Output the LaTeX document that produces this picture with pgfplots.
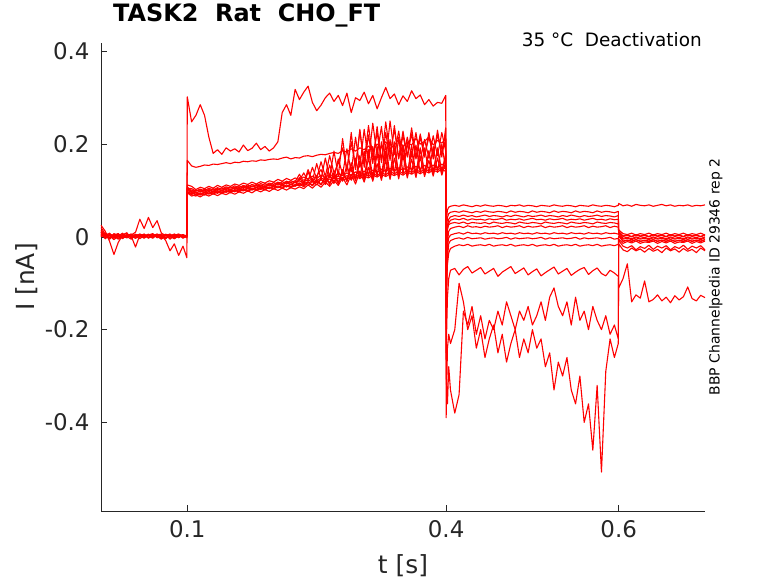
\documentclass[border=0pt]{standalone}
\usepackage{fontspec}
\setmainfont{DejaVu Sans}
\usepackage{pgfplots}
\usepackage{pgfplotstable}
\pgfplotsset{compat=1.18}
\definecolor{axisgray}{rgb}{0.15,0.15,0.15}

\pgfplotstableread{
t a b c d e f g h i j k l
0.000 0.012 0.020 0.005 0.008 0.000 0.010 0.004 0.015 0.002 0.006 0.010 0.025
0.005 0.004 0.006 -0.003 0.002 0.008 -0.004 0.001 0.003 0.007 -0.002 0.005 0.012
0.010 0.002 -0.004 0.006 -0.005 0.003 0.005 -0.002 0.008 -0.001 0.004 -0.003 -0.010
0.015 -0.003 0.005 0.001 0.004 -0.006 0.002 0.007 -0.002 0.003 0.000 0.006 -0.038
0.020 0.006 0.000 -0.004 0.007 0.002 -0.003 0.003 0.005 -0.005 0.007 0.002 -0.012
0.025 0.001 0.004 0.005 -0.002 0.004 0.006 -0.004 0.000 0.004 -0.003 0.008 0.004
0.030 -0.002 0.007 0.000 0.003 -0.001 0.001 0.005 0.004 0.001 0.003 -0.002 0.009
0.035 0.005 -0.002 0.004 0.006 0.005 -0.005 0.000 0.002 0.006 0.002 0.004 -0.004
0.040 0.000 0.003 -0.003 0.001 0.002 0.004 0.006 -0.003 0.000 -0.022 0.010 0.003
0.045 0.004 0.005 0.002 -0.004 0.000 0.003 -0.001 0.006 0.003 0.004 0.038 0.006
0.050 -0.001 0.001 0.006 0.003 0.006 -0.002 0.004 0.001 -0.003 0.005 0.018 0.002
0.055 0.003 0.006 -0.002 0.005 -0.003 0.005 0.002 0.004 0.005 -0.001 0.042 -0.002
0.060 0.006 -0.001 0.003 0.000 0.004 0.000 -0.003 0.007 0.002 0.003 0.020 0.005
0.065 -0.002 0.004 0.005 0.006 0.001 0.004 0.005 -0.001 0.004 0.006 0.035 0.001
0.070 0.004 0.002 -0.004 0.002 -0.005 0.006 0.001 0.003 -0.002 0.002 0.008 0.004
0.075 0.002 0.005 0.003 -0.003 0.003 -0.002 0.004 0.005 0.006 -0.004 0.003 -0.008
0.080 0.005 -0.003 0.001 0.004 0.006 0.003 -0.005 0.000 0.001 0.004 0.006 -0.030
0.085 -0.001 0.003 0.006 0.001 -0.002 0.005 0.003 0.006 -0.004 0.001 -0.004 -0.015
0.090 0.003 0.006 -0.002 0.005 0.004 -0.001 0.006 0.002 0.005 0.005 0.002 -0.040
0.095 0.001 0.000 0.004 -0.002 0.002 0.004 0.000 0.004 0.003 -0.003 0.005 -0.020
0.0995 0.004 0.003 0.002 0.003 -0.001 0.002 0.003 -0.002 0.001 0.002 0.000 -0.045
0.100 0.302 0.165 0.105 0.098 0.112 0.095 0.102 0.096 0.108 0.100 0.104 0.097
0.105 0.248 0.153 0.104 0.093 0.109 0.088 0.101 0.091 0.098 0.097 0.095 0.092
0.110 0.262 0.150 0.099 0.097 0.102 0.091 0.094 0.088 0.101 0.090 0.099 0.095
0.115 0.285 0.152 0.103 0.091 0.107 0.086 0.099 0.094 0.097 0.095 0.101 0.090
0.120 0.262 0.155 0.099 0.097 0.104 0.092 0.095 0.090 0.103 0.092 0.096 0.096
0.125 0.215 0.154 0.105 0.094 0.109 0.088 0.101 0.095 0.099 0.098 0.102 0.092
0.130 0.180 0.157 0.101 0.099 0.105 0.093 0.097 0.092 0.104 0.094 0.098 0.097
0.135 0.188 0.156 0.106 0.096 0.111 0.089 0.103 0.097 0.100 0.099 0.104 0.094
0.140 0.178 0.158 0.103 0.101 0.107 0.094 0.099 0.093 0.106 0.095 0.100 0.099
0.145 0.192 0.160 0.108 0.097 0.112 0.091 0.104 0.099 0.102 0.100 0.106 0.096
0.150 0.185 0.158 0.105 0.102 0.109 0.096 0.101 0.095 0.108 0.097 0.102 0.101
0.155 0.190 0.161 0.110 0.099 0.114 0.092 0.106 0.100 0.104 0.102 0.107 0.097
0.160 0.183 0.160 0.106 0.104 0.111 0.097 0.102 0.097 0.110 0.099 0.103 0.102
0.165 0.198 0.163 0.111 0.100 0.116 0.094 0.107 0.102 0.106 0.104 0.109 0.099
0.170 0.186 0.162 0.108 0.106 0.113 0.099 0.104 0.098 0.112 0.100 0.105 0.104
0.175 0.191 0.164 0.113 0.102 0.118 0.095 0.109 0.103 0.108 0.105 0.110 0.101
0.180 0.202 0.163 0.110 0.107 0.114 0.101 0.106 0.100 0.113 0.102 0.107 0.106
0.185 0.188 0.166 0.115 0.104 0.119 0.097 0.110 0.105 0.109 0.107 0.112 0.102
0.190 0.195 0.165 0.111 0.109 0.116 0.102 0.107 0.101 0.115 0.103 0.108 0.107
0.195 0.185 0.167 0.116 0.105 0.121 0.098 0.112 0.107 0.111 0.108 0.114 0.104
0.200 0.192 0.168 0.113 0.110 0.118 0.104 0.109 0.103 0.117 0.105 0.110 0.109
0.205 0.205 0.167 0.118 0.106 0.124 0.100 0.114 0.108 0.113 0.110 0.116 0.106
0.210 0.268 0.170 0.115 0.112 0.120 0.105 0.111 0.105 0.119 0.107 0.112 0.111
0.215 0.285 0.172 0.120 0.108 0.126 0.101 0.117 0.110 0.115 0.112 0.118 0.108
0.220 0.262 0.168 0.117 0.114 0.122 0.106 0.112 0.106 0.121 0.108 0.113 0.113
0.225 0.318 0.171 0.121 0.110 0.127 0.103 0.118 0.111 0.117 0.113 0.119 0.109
0.230 0.296 0.170 0.118 0.128 0.123 0.108 0.114 0.114 0.122 0.110 0.135 0.115
0.235 0.312 0.174 0.123 0.112 0.129 0.104 0.119 0.108 0.138 0.116 0.116 0.111
0.240 0.325 0.175 0.120 0.140 0.125 0.112 0.116 0.118 0.120 0.111 0.145 0.118
0.245 0.290 0.173 0.125 0.118 0.131 0.105 0.121 0.110 0.150 0.120 0.121 0.112
0.250 0.272 0.176 0.121 0.132 0.126 0.114 0.117 0.120 0.126 0.112 0.158 0.124
0.255 0.284 0.178 0.127 0.145 0.133 0.107 0.123 0.112 0.162 0.125 0.124 0.113
0.260 0.300 0.177 0.123 0.120 0.128 0.118 0.119 0.128 0.130 0.113 0.170 0.130
0.265 0.310 0.180 0.129 0.155 0.135 0.109 0.125 0.113 0.175 0.135 0.128 0.116
0.270 0.292 0.182 0.125 0.125 0.130 0.122 0.121 0.132 0.138 0.115 0.185 0.138
0.275 0.305 0.180 0.131 0.168 0.137 0.111 0.126 0.114 0.158 0.142 0.132 0.117
0.280 0.283 0.186 0.126 0.135 0.132 0.128 0.122 0.140 0.192 0.120 0.212 0.145
0.285 0.310 0.183 0.132 0.190 0.138 0.112 0.127 0.119 0.145 0.155 0.140 0.122
0.290 0.268 0.190 0.127 0.140 0.133 0.135 0.124 0.150 0.205 0.122 0.225 0.160
0.295 0.300 0.185 0.134 0.215 0.140 0.114 0.130 0.121 0.150 0.170 0.145 0.124
0.300 0.294 0.192 0.129 0.150 0.135 0.142 0.126 0.162 0.228 0.125 0.232 0.175
0.305 0.312 0.188 0.136 0.232 0.142 0.118 0.131 0.122 0.160 0.185 0.150 0.126
0.310 0.287 0.196 0.131 0.165 0.137 0.150 0.127 0.170 0.240 0.128 0.220 0.188
0.315 0.305 0.186 0.137 0.245 0.144 0.120 0.133 0.124 0.172 0.195 0.158 0.128
0.320 0.276 0.200 0.132 0.175 0.139 0.158 0.129 0.178 0.225 0.130 0.238 0.195
0.325 0.300 0.192 0.139 0.238 0.146 0.122 0.135 0.126 0.165 0.205 0.160 0.130
0.330 0.322 0.205 0.134 0.160 0.141 0.165 0.130 0.185 0.248 0.132 0.225 0.200
0.335 0.298 0.190 0.141 0.250 0.148 0.124 0.136 0.128 0.178 0.210 0.165 0.132
0.340 0.308 0.198 0.136 0.178 0.142 0.170 0.132 0.192 0.232 0.133 0.240 0.205
0.345 0.285 0.210 0.142 0.228 0.149 0.125 0.138 0.129 0.170 0.215 0.168 0.133
0.350 0.304 0.195 0.137 0.168 0.144 0.175 0.133 0.195 0.218 0.135 0.228 0.198
0.355 0.292 0.203 0.144 0.215 0.151 0.127 0.140 0.131 0.175 0.205 0.172 0.135
0.360 0.315 0.198 0.139 0.172 0.146 0.168 0.135 0.198 0.222 0.136 0.235 0.185
0.365 0.298 0.212 0.145 0.225 0.152 0.128 0.141 0.132 0.168 0.198 0.170 0.136
0.370 0.306 0.200 0.140 0.165 0.147 0.172 0.136 0.190 0.215 0.137 0.222 0.192
0.375 0.285 0.206 0.146 0.210 0.154 0.130 0.142 0.134 0.172 0.192 0.175 0.138
0.380 0.296 0.215 0.142 0.170 0.149 0.165 0.138 0.186 0.225 0.138 0.215 0.180
0.385 0.282 0.198 0.148 0.218 0.155 0.131 0.144 0.135 0.168 0.195 0.178 0.140
0.390 0.290 0.208 0.144 0.175 0.150 0.170 0.140 0.192 0.230 0.139 0.220 0.190
0.395 0.288 0.202 0.150 0.225 0.157 0.133 0.146 0.137 0.172 0.200 0.180 0.141
0.3995 0.305 0.212 0.147 0.185 0.152 0.160 0.141 0.180 0.235 0.145 0.210 0.175
0.4000 0.030 0.000 -0.050 -0.100 -0.020 -0.150 -0.080 -0.200 -0.120 -0.250 -0.300 -0.390
0.4015 0.058 0.042 0.025 0.015 0.018 -0.010 -0.020 -0.045 -0.060 -0.130 -0.360 -0.240
0.4030 0.064 0.050 0.038 0.030 0.026 0.012 -0.002 -0.015 -0.035 -0.090 -0.280 -0.210
0.4050 0.066 0.053 0.043 0.036 0.029 0.018 0.004 -0.008 -0.025 -0.072 -0.330 -0.230
0.4100 0.068 0.055 0.046 0.039 0.031 0.021 0.007 -0.004 -0.020 -0.068 -0.380 -0.200
0.4150 0.066 0.053 0.044 0.037 0.029 0.023 0.009 -0.002 -0.017 -0.082 -0.340 -0.100
0.4200 0.069 0.056 0.047 0.040 0.032 0.020 0.006 -0.005 -0.019 -0.070 -0.160 -0.140
0.4250 0.067 0.054 0.044 0.036 0.028 0.024 0.010 -0.001 -0.016 -0.064 -0.190 -0.200
0.4300 0.065 0.052 0.046 0.039 0.031 0.021 0.007 -0.004 -0.020 -0.078 -0.150 -0.170
0.4350 0.068 0.055 0.043 0.037 0.030 0.022 0.008 -0.003 -0.018 -0.072 -0.210 -0.240
0.4400 0.066 0.053 0.045 0.038 0.029 0.020 0.006 -0.002 -0.017 -0.066 -0.170 -0.200
0.4450 0.069 0.056 0.047 0.036 0.031 0.023 0.009 -0.005 -0.019 -0.080 -0.220 -0.260
0.4500 0.067 0.054 0.044 0.039 0.028 0.021 0.007 -0.003 -0.016 -0.074 -0.180 -0.220
0.4550 0.066 0.053 0.046 0.037 0.032 0.022 0.008 -0.002 -0.020 -0.068 -0.200 -0.190
0.4600 0.068 0.055 0.045 0.038 0.030 0.024 0.006 -0.004 -0.018 -0.085 -0.160 -0.250
0.4650 0.067 0.054 0.043 0.040 0.029 0.020 0.009 -0.003 -0.017 -0.076 -0.190 -0.210
0.4700 0.065 0.052 0.046 0.036 0.031 0.023 0.007 -0.001 -0.019 -0.070 -0.140 -0.270
0.4750 0.068 0.056 0.044 0.038 0.030 0.021 0.008 -0.005 -0.016 -0.064 -0.170 -0.230
0.4800 0.067 0.053 0.047 0.037 0.028 0.022 0.006 -0.002 -0.020 -0.079 -0.200 -0.200
0.4850 0.069 0.055 0.045 0.039 0.032 0.024 0.009 -0.004 -0.018 -0.073 -0.160 -0.260
0.4900 0.066 0.054 0.043 0.036 0.030 0.020 0.007 -0.003 -0.017 -0.067 -0.180 -0.220
0.4950 0.068 0.052 0.046 0.038 0.029 0.023 0.008 -0.002 -0.019 -0.082 -0.150 -0.250
0.5000 0.067 0.056 0.044 0.040 0.031 0.021 0.006 -0.004 -0.016 -0.075 -0.190 -0.200
0.5050 0.065 0.053 0.045 0.037 0.030 0.022 0.009 -0.003 -0.020 -0.069 -0.170 -0.240
0.5100 0.068 0.055 0.047 0.038 0.028 0.024 0.007 -0.001 -0.018 -0.084 -0.140 -0.220
0.5150 0.067 0.054 0.044 0.036 0.032 0.020 0.008 -0.005 -0.017 -0.077 -0.180 -0.280
0.5200 0.066 0.052 0.046 0.039 0.030 0.023 0.006 -0.002 -0.019 -0.071 -0.130 -0.250
0.5250 0.069 0.056 0.045 0.037 0.029 0.021 0.009 -0.004 -0.016 -0.065 -0.110 -0.330
0.5300 0.067 0.053 0.043 0.038 0.031 0.022 0.007 -0.003 -0.020 -0.080 -0.150 -0.270
0.5350 0.066 0.055 0.046 0.040 0.030 0.024 0.008 -0.002 -0.018 -0.074 -0.170 -0.300
0.5400 0.068 0.054 0.044 0.036 0.028 0.020 0.006 -0.004 -0.017 -0.068 -0.140 -0.260
0.5450 0.067 0.052 0.047 0.038 0.032 0.023 0.009 -0.003 -0.019 -0.083 -0.190 -0.330
0.5500 0.065 0.056 0.045 0.037 0.030 0.021 0.007 -0.001 -0.016 -0.076 -0.130 -0.360
0.5550 0.068 0.053 0.043 0.039 0.029 0.022 0.008 -0.005 -0.020 -0.070 -0.180 -0.300
0.5600 0.067 0.055 0.046 0.036 0.031 0.024 0.006 -0.002 -0.018 -0.066 -0.160 -0.400
0.5650 0.066 0.054 0.044 0.038 0.030 0.020 0.009 -0.004 -0.017 -0.081 -0.200 -0.360
0.5700 0.069 0.052 0.045 0.040 0.028 0.023 0.007 -0.003 -0.019 -0.073 -0.150 -0.460
0.5750 0.067 0.056 0.047 0.037 0.032 0.021 0.008 -0.002 -0.016 -0.067 -0.180 -0.320
0.5800 0.066 0.053 0.044 0.038 0.030 0.022 0.006 -0.004 -0.020 -0.079 -0.200 -0.507
0.5850 0.068 0.055 0.046 0.036 0.029 0.024 0.009 -0.003 -0.018 -0.084 -0.170 -0.290
0.5900 0.067 0.054 0.045 0.039 0.031 0.020 0.007 -0.001 -0.017 -0.072 -0.210 -0.220
0.5950 0.065 0.052 0.043 0.037 0.030 0.023 0.008 -0.005 -0.019 -0.078 -0.190 -0.260
0.5995 0.068 0.055 0.046 0.038 0.028 0.021 0.006 -0.003 -0.016 -0.085 -0.220 -0.230
0.600 0.072 0.010 0.012 0.015 0.005 0.010 0.006 -0.008 0.002 -0.110 -0.005 -0.015
0.605 0.067 -0.003 0.002 0.007 -0.009 0.001 -0.005 -0.020 -0.010 -0.090 -0.014 -0.028
0.610 0.069 -0.001 0.004 0.005 -0.007 0.003 -0.003 -0.024 -0.007 -0.058 -0.010 -0.032
0.615 0.066 -0.004 0.001 0.008 -0.010 0.000 -0.006 -0.019 -0.009 -0.140 -0.013 -0.024
0.620 0.070 0.000 0.005 0.004 -0.006 0.004 -0.002 -0.028 -0.006 -0.125 -0.009 -0.030
0.625 0.068 -0.003 0.002 0.007 -0.009 0.001 -0.005 -0.021 -0.010 -0.132 -0.014 -0.026
0.630 0.067 -0.001 0.004 0.005 -0.008 0.003 -0.003 -0.025 -0.007 -0.095 -0.011 -0.033
0.635 0.069 -0.004 0.001 0.008 -0.010 0.000 -0.006 -0.018 -0.009 -0.140 -0.012 -0.025
0.640 0.066 0.000 0.005 0.004 -0.006 0.004 -0.002 -0.027 -0.006 -0.135 -0.009 -0.031
0.645 0.068 -0.003 0.002 0.007 -0.009 0.001 -0.005 -0.020 -0.010 -0.125 -0.014 -0.027
0.650 0.070 -0.001 0.004 0.005 -0.007 0.003 -0.003 -0.024 -0.007 -0.138 -0.010 -0.034
0.655 0.067 -0.004 0.001 0.008 -0.010 0.000 -0.006 -0.019 -0.009 -0.130 -0.013 -0.024
0.660 0.069 0.000 0.005 0.004 -0.006 0.004 -0.002 -0.028 -0.006 -0.142 -0.009 -0.030
0.665 0.066 -0.003 0.002 0.007 -0.009 0.001 -0.005 -0.021 -0.010 -0.127 -0.014 -0.026
0.670 0.068 -0.001 0.004 0.005 -0.008 0.003 -0.003 -0.025 -0.007 -0.136 -0.011 -0.033
0.675 0.067 -0.004 0.001 0.008 -0.010 0.000 -0.006 -0.018 -0.009 -0.129 -0.012 -0.025
0.680 0.069 0.000 0.005 0.004 -0.006 0.004 -0.002 -0.027 -0.006 -0.108 -0.009 -0.031
0.685 0.066 -0.003 0.002 0.007 -0.009 0.001 -0.005 -0.020 -0.010 -0.133 -0.014 -0.027
0.690 0.068 -0.001 0.004 0.005 -0.007 0.003 -0.003 -0.024 -0.007 -0.138 -0.010 -0.034
0.695 0.067 -0.004 0.001 0.008 -0.010 0.000 -0.006 -0.019 -0.009 -0.126 -0.013 -0.024
0.700 0.069 0.000 0.005 0.004 -0.006 0.004 -0.002 -0.028 -0.006 -0.131 -0.009 -0.030
}\data

\begin{document}
\begin{tikzpicture}
\path[use as bounding box] (0,0) rectangle (778bp,583bp);
\begin{axis}[
  at={(101bp,72bp)}, anchor=south west,
  width=604bp, height=468bp, scale only axis,
  xmin=0, xmax=0.7, ymin=-0.591, ymax=0.418,
  axis x line*=bottom, axis y line*=left,
  axis line style={color=axisgray, line width=0.6bp},
  tick align=inside, major tick length=6bp,
  tick style={color=axisgray, line width=0.6bp},
  xtick={0.1,0.4,0.6}, xticklabels={0.1,0.4,0.6},
  ytick={-0.4,-0.2,0,0.2,0.4}, yticklabels={-0.4,-0.2,0,0.2,0.4},
  ticklabel style={font=\fontsize{23}{27}\selectfont, text=axisgray},
  xticklabel style={yshift=-6bp},
  yticklabel style={xshift=-8bp},
  xlabel={t [s]}, ylabel={I [nA]},
  label style={font=\fontsize{25}{29}\selectfont, text=axisgray},
  x label style={at={(axis description cs:0.5,-0.1173)}, anchor=center},
  y label style={at={(axis description cs:-0.1225,0.5)}, anchor=center},
  title={TASK2\ \ Rat\ \ CHO\_FT},
  title style={at={(axis description cs:0.0199,1.034)}, anchor=base west, inner sep=0pt,
    font=\fontsize{24}{28}\bfseries\selectfont, text=black},
  clip=false,
]
\pgfplotsinvokeforeach{a,b,c,d,e,f,g,h,i,j,k,l}{
  \addplot[color=red, line width=1.1bp, line join=round, mark=none] table[x=t, y=#1]{\data};
}
\node[anchor=base east, inner sep=0pt, font=\fontsize{18.5}{22}\selectfont, text=black]
  at (axis description cs:0.995,0.9915) {35 °C\ \ Deactivation};
\node[rotate=90, anchor=center, font=\fontsize{14}{17}\selectfont, text=black]
  at (axis description cs:1.018,0.5) {BBP Channelpedia ID 29346 rep 2};
\end{axis}
\end{tikzpicture}
\end{document}
